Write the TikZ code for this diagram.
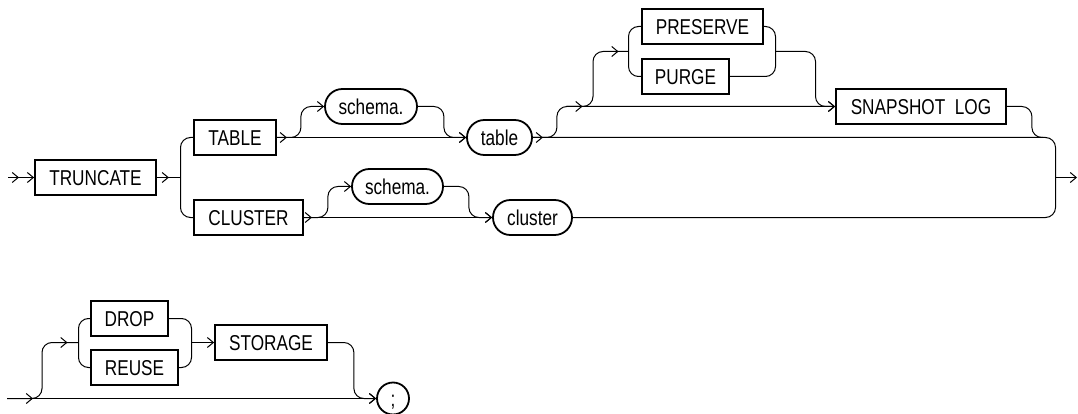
\documentclass[tikz,border=0pt]{standalone}
\usepackage{fontspec}
\setmainfont{Liberation Sans}[FakeStretch=0.8]
\usetikzlibrary{arrows.meta, decorations.markings}

\tikzset{
  kw/.style={draw, line width=1.8pt, inner xsep=4pt, inner ysep=0pt,
             minimum height=35pt, text height=15.5pt, text depth=0pt,
             font=\fontsize{21.5}{24}\selectfont},
  ident/.style={kw, rounded corners=17.4pt},
  conn/.style={line width=1pt, rounded corners=10pt},
  arr at/.style={postaction={decorate},
                 decoration={markings, mark=at position #1 with {\arrow{>}}}},
}

\begin{document}
\begin{tikzpicture}[x=1pt, y=-1pt, >={Straight Barb[length=6pt,width=10pt]}]
  \fill[white] (0,0) rectangle (1078,414);
  \useasboundingbox (0,0) rectangle (1078,414);

  % keywords and names, first line
  \node[kw, minimum width=121pt] (truncate) at (95.5,177.5) {TRUNCATE};
  \node[kw, minimum width=82pt] (tablekw) at (235,137.5) {TABLE};
  \node[kw, minimum width=109pt] (clusterkw) at (248.5,217.5) {CLUSTER};
  \node[ident, minimum width=92pt] (schemaA) at (371,106.5) {schema.};
  \node[ident, minimum width=65pt] (tablename) at (499.5,137.5) {table};
  \node[kw, minimum width=121pt] (preserve) at (702.5,26.5) {PRESERVE};
  \node[kw, minimum width=87pt] (purge) at (685.5,76.5) {PURGE};
  \node[kw, minimum width=170pt] (snapshot) at (921,106.5) {SNAPSHOT\ \ LOG};
  \node[ident, minimum width=91pt] (schemaB) at (397.5,186.5) {schema.};
  \node[ident, minimum width=79pt] (clustername) at (532.5,217.5) {cluster};

  % second line
  \node[kw, minimum width=77pt] (drop) at (129.5,318.5) {DROP};
  \node[kw, minimum width=87pt] (reuse) at (134.5,367.5) {REUSE};
  \node[kw, minimum width=112pt] (storage) at (271,342.5) {STORAGE};
  \node[kw, circle, minimum size=32pt, inner sep=0pt] (semi) at (393,398.5) {;};

  % junctions
  \coordinate (start) at (8,177.5);
  \coordinate (fork) at (180.5,177.5);
  \coordinate (lane) at (566,106.5);
  \coordinate (grpin) at (628.5,51.5);
  \coordinate (grpout) at (775.5,51.5);
  \coordinate (merge) at (1043,137.5);
  \coordinate (rtop) at (1055.5,137.5);
  \coordinate (rbot) at (1055.5,217.5);
  \coordinate (join) at (1055.5,177.5);
  \coordinate (stop) at (1077,177.5);
  \coordinate (start2) at (7,398.5);
  \coordinate (grp2in) at (78.5,342.5);
  \coordinate (grp2out) at (191.5,342.5);

  % first line connectors
  \draw[conn, ->, arr at=11pt] (start) -- (truncate.west);
  \draw[conn, arr at=12pt] (truncate.east) -- (fork);
  \draw[conn] (tablekw.west) -| (fork) |- (clusterkw.west);

  \draw[conn, ->, arr at=10pt] (tablekw.east) -- (tablename.west);
  \draw[conn, ->] (tablekw.east) -- ++(24,0) |- (schemaA.west);
  \draw[conn, ->] (schemaA.east) -- ++(26,0) |- (tablename.west);

  \draw[conn, arr at=10pt] (tablename.east) -- (rtop) -- (rbot) -- (clustername.east);
  \draw[conn, ->, arr at=72pt] (tablename.east) -- ++(24,0) |- (snapshot.west);
  \draw[conn, arr at=-10pt] (lane) -| ++(27,-55) -- (grpin);
  \draw[conn] (preserve.west) -| (grpin) |- (purge.west);
  \draw[conn] (preserve.east) -| (grpout) |- (purge.east);
  \draw[conn, ->] (grpout) -| ++(40,55) -- (snapshot.west);
  \draw[conn] (snapshot.east) -| ++(25,31) -- (merge);
  \draw[conn, ->] (join) -- (stop);

  \draw[conn, ->, arr at=8pt] (clusterkw.east) -- (clustername.west);
  \draw[conn, ->] (clusterkw.east) -- ++(24,0) |- (schemaB.west);
  \draw[conn, ->] (schemaB.east) -- ++(25,0) |- (clustername.west);

  % second line connectors
  \draw[conn, ->, arr at=26pt] (start2) -- (semi.west);
  \draw[conn, arr at=-11pt] (start2) -- ++(35,0) |- (grp2in);
  \draw[conn] (drop.west) -| (grp2in) |- (reuse.west);
  \draw[conn] (drop.east) -| (grp2out) |- (reuse.east);
  \draw[conn, ->] (grp2out) -- (storage.west);
  \draw[conn, ->] (storage.east) -| ++(26,56) -- (semi.west);
\end{tikzpicture}
\end{document}
